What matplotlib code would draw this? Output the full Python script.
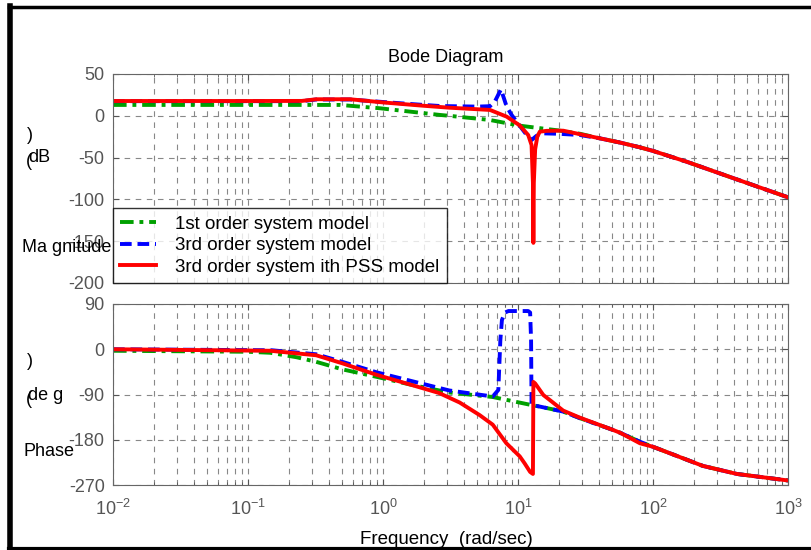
import matplotlib
matplotlib.use("Agg")
import matplotlib.pyplot as plt
from matplotlib.lines import Line2D

plt.rcParams['font.family'] = ['Liberation Sans', 'DejaVu Sans']
plt.rcParams['mathtext.fontset'] = 'custom'
plt.rcParams['mathtext.rm'] = 'Liberation Sans'
plt.rcParams['mathtext.it'] = 'Liberation Sans:italic'
plt.rcParams['axes.unicode_minus'] = False

# magnitude (dB)
f_mag_1st = [0.01, 0.1, 0.48, 0.95, 2.65, 3.1, 6.2, 10.3, 16.3, 20, 28.8, 40.5, 57, 80, 100, 178, 400, 1000]
mag_1st = [13, 13, 13, 9, 1, 0, -5, -11.8, -15.8, -17.5, -21.5, -27, -32, -37.7, -42, -55, -75, -97.5]

f_mag_3rd = [0.01, 0.25, 0.32, 0.57, 1.0, 2.0, 2.65, 5.0, 6.2, 6.75, 7.48, 8.24, 8.97, 9.77,
             11.6, 12.6, 13.7, 15.4, 20, 28.8, 40.5, 57, 80, 100, 178, 400, 1000]
mag_3rd = [17.5, 17.5, 19.5, 19.5, 16.5, 13, 11.7, 11, 11.5, 17.3, 31.7, 11, 1, -7,
           -23, -29, -24, -21, -21.5, -23, -27, -32, -37.7, -42, -55, -75, -97.5]

f_mag_pss = [0.01, 0.1, 0.25, 0.32, 0.57, 1.0, 2.0, 3.1, 6.2, 8.24, 10.3, 11.9, 12.6, 12.9,
             13.0, 13.1, 13.4, 13.9, 14.5, 16.3, 21.6, 40.5, 57, 80, 100, 178, 400, 1000]
mag_pss = [17.7, 17.7, 17.8, 19.8, 19.8, 16, 12, 9.7, 7, -1, -11.5, -23, -35, -80,
           -152, -80, -40, -25, -19, -18, -17.8, -27, -32, -37.7, -42, -55, -75, -97.5]

# phase (deg)
f_ph_1st = [0.01, 0.1, 0.146, 0.23, 0.32, 0.5, 0.9, 1.58, 3.1, 6.5, 12.6, 14.5, 21.6, 28.7,
            50, 57, 80, 100, 234, 418, 1000]
ph_1st = [-3, -5, -7, -16, -25, -40, -55, -70, -86, -95, -111, -114, -124, -137,
          -160, -166, -184, -194, -232, -248, -261]

f_ph_3rd = [0.01, 0.15, 0.32, 0.5, 0.9, 3.1, 6.5, 7.15, 7.4, 7.6, 8.0, 8.5, 11.9, 12.3, 12.5,
            12.6, 14.5, 21.6, 28.7, 50, 57, 80, 100, 234, 418, 1000]
ph_3rd = [0, -2, -10, -25, -46, -82, -94, -81, 18, 58, 73, 76, 76, 73, 18,
          -111, -114, -124, -137, -160, -166, -184, -194, -232, -248, -261]

f_ph_pss = [0.01, 0.146, 0.32, 0.5, 0.9, 1.58, 2.6, 3.7, 5.2, 6.5, 8.2, 10.3, 11.2, 12.3, 12.9,
            13.0, 13.4, 15.4, 17.2, 21.6, 28.7, 50, 57, 80, 100, 234, 418, 1000]
ph_pss = [0, -3, -12, -28, -51, -70, -87, -106, -131, -150, -187, -213, -227, -244, -248,
          -65, -68, -91, -101, -122, -136, -160, -166, -187, -194, -232, -248, -261]

labels = ['1st order system model', '3rd order system model', '3rd order system ith PSS model']

W, H = 812, 550
fig = plt.figure(figsize=(W / 100, H / 100), dpi=100)
FS = 13


def fx(px):
    return px / W


def fy(py):
    return 1 - py / H


ax1 = fig.add_axes([fx(113), fy(283), fx(788) - fx(113), fy(74) - fy(283)])
ax2 = fig.add_axes([fx(113), fy(485), fx(788) - fx(113), fy(304) - fy(485)])

green, blue, red = '#00a000', '#0000ff', '#ff0000'
dashdot = (0, (3.5, 1.5, 1, 1.5))
dashed = (0, (3, 1.5))

l1, = ax1.plot(f_mag_1st, mag_1st, color=green, lw=2.8, ls=dashdot)
l2, = ax1.plot(f_mag_3rd, mag_3rd, color=blue, lw=2.8, ls=dashed)
l3, = ax1.plot(f_mag_pss, mag_pss, color=red, lw=2.8)

ax2.plot(f_ph_1st, ph_1st, color=green, lw=2.8, ls=dashdot)
ax2.plot(f_ph_3rd, ph_3rd, color=blue, lw=2.8, ls=dashed)
ax2.plot(f_ph_pss, ph_pss, color=red, lw=2.8)

for ax in (ax1, ax2):
    ax.set_xscale('log')
    ax.set_xlim(1e-2, 1e3)
    ax.grid(True, which='major', color='#888888', ls=(0, (5, 5)), lw=0.8)
    ax.grid(True, which='minor', axis='x', color='#888888', ls=(0, (5, 5)), lw=0.8)
    ax.tick_params(which='both', direction='in', top=True, right=True,
                   colors='#555555', labelcolor='#555555', labelsize=FS)
    ax.tick_params(which='major', length=4)
    ax.tick_params(which='minor', length=2)
    ax.tick_params(axis='y', pad=6)
    for s in ax.spines.values():
        s.set_color('#666666')
    ax.set_axisbelow(True)

ax1.set_ylim(-200, 50)
ax1.set_yticks([50, 0, -50, -100, -150, -200])
ax1.tick_params(labelbottom=False)
ax2.set_ylim(-270, 90)
ax2.set_yticks([90, 0, -90, -180, -270])
ax2.tick_params(axis='x', pad=10)

leg = ax1.legend([l1, l2, l3], labels, loc='lower left', borderaxespad=0,
                 frameon=True, fancybox=False, fontsize=13.5, handlelength=1.9,
                 borderpad=0.4, labelspacing=0.22, handletextpad=1.0)
leg.get_frame().set_edgecolor('black')
leg.get_frame().set_linewidth(1.0)

# titles and broken-looking MATLAB labels
fig.text(fx(446), fy(57), 'Bode Diagram', ha='center', va='center', fontsize=FS)
fig.text(fx(446), fy(540), 'Frequency  (rad/sec)', ha='center', va='center', fontsize=13.5)

fig.text(fx(27), fy(135), ')', ha='left', va='center', fontsize=FS)
fig.text(fx(28), fy(157), 'dB', ha='left', va='center', fontsize=FS)
fig.text(fx(26), fy(162), '(', ha='left', va='center', fontsize=FS)
fig.text(fx(22), fy(248), 'Ma gnitude', ha='left', va='center', fontsize=FS)

fig.text(fx(27), fy(362), ')', ha='left', va='center', fontsize=FS)
fig.text(fx(28), fy(395), 'de g', ha='left', va='center', fontsize=FS)
fig.text(fx(26), fy(400), '(', ha='left', va='center', fontsize=FS)
fig.text(fx(24), fy(452), 'Phase', ha='left', va='center', fontsize=FS)

# black frame around the figure
fig.add_artist(Line2D([fx(10.5), fx(10.5)], [fy(6), fy(549)], color='black', lw=4))
fig.add_artist(Line2D([fx(9), 1], [fy(6.5), fy(6.5)], color='black', lw=2.5))
fig.add_artist(Line2D([fx(9), 1], [fy(549), fy(549)], color='black', lw=3))

fig.savefig('out.png', dpi=100)
